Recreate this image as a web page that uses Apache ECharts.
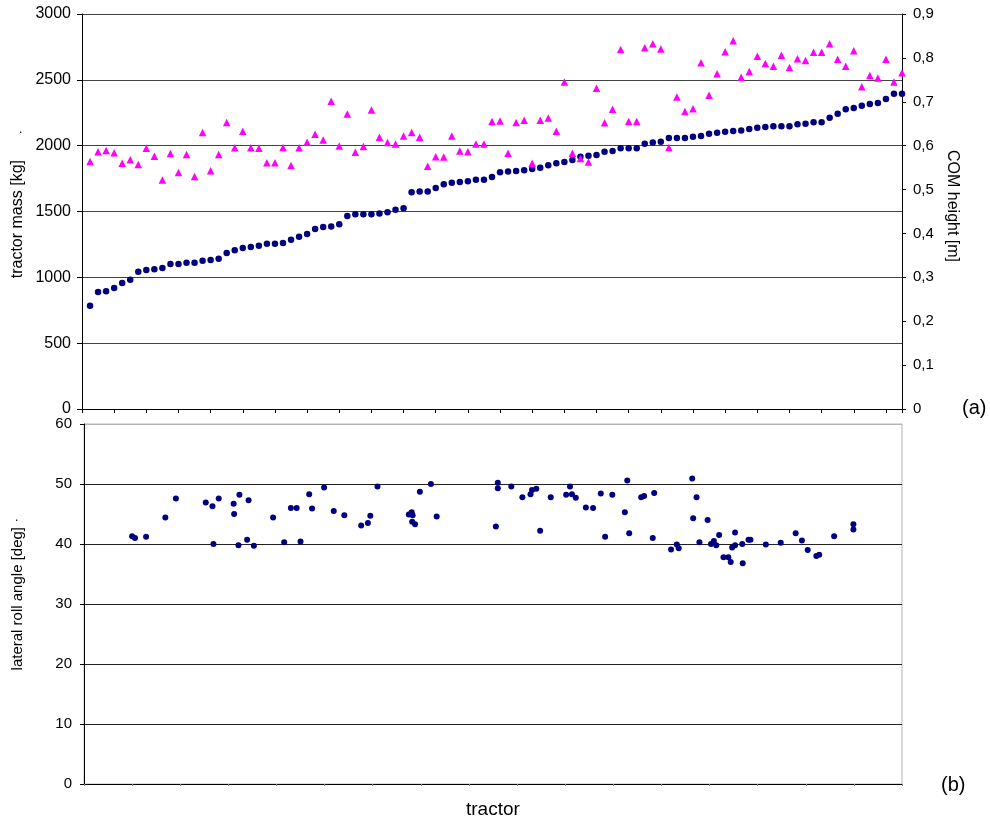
<!DOCTYPE html>
<html>
<head>
<meta charset="utf-8">
<script src="https://cdn.jsdelivr.net/npm/echarts@6/dist/echarts.min.js"></script>
<style>
  html, body { margin: 0; padding: 0; background: #fff; }
  #chart { width: 990px; height: 822px; }
</style>
</head>
<body>
<div id="chart"></div>
<script>
// (a) tractors sorted by mass, index 1..102
var massKg = [784, 889, 894, 919, 957, 982, 1043, 1056, 1061, 1071,
    1101, 1101, 1111, 1111, 1126, 1132, 1142, 1185, 1205, 1223,
    1230, 1240, 1256, 1256, 1261, 1286, 1309, 1329, 1367, 1382,
    1387, 1403, 1465, 1479, 1479, 1479, 1484, 1494, 1514, 1524,
    1646, 1651, 1651, 1679, 1707, 1719, 1724, 1729, 1742, 1742,
    1762, 1798, 1803, 1808, 1813, 1823, 1833, 1851, 1866, 1876,
    1891, 1916, 1924, 1929, 1954, 1960, 1981, 1980, 1980, 2015,
    2025, 2030, 2058, 2058, 2058, 2068, 2073, 2091, 2098, 2106,
    2111, 2116, 2127, 2136, 2142, 2147, 2147, 2147, 2162, 2167,
    2177, 2177, 2212, 2243, 2276, 2286, 2304, 2317, 2324, 2354,
    2395, 2395];

var comHeight = [0.564, 0.586, 0.589, 0.584, 0.560, 0.568, 0.557, 0.594, 0.576, 0.522,
    0.582, 0.539, 0.580, 0.530, 0.630, 0.543, 0.580, 0.653, 0.595, 0.633,
    0.595, 0.594, 0.561, 0.561, 0.596, 0.555, 0.595, 0.608, 0.626, 0.613,
    0.701, 0.599, 0.672, 0.585, 0.598, 0.681, 0.619, 0.607, 0.604, 0.622,
    0.630, 0.619, 0.553, 0.575, 0.574, 0.622, 0.588, 0.586, 0.604, 0.604,
    0.655, 0.656, 0.583, 0.653, 0.658, 0.560, 0.658, 0.663, 0.633, 0.745,
    0.583, 0.571, 0.563, 0.731, 0.652, 0.683, 0.819, 0.655, 0.655, 0.823,
    0.832, 0.820, 0.596, 0.711, 0.678, 0.684, 0.789, 0.715, 0.764, 0.814,
    0.839, 0.756, 0.769, 0.804, 0.787, 0.781, 0.806, 0.778, 0.798, 0.794,
    0.813, 0.813, 0.832, 0.797, 0.781, 0.816, 0.734, 0.760, 0.754, 0.797,
    0.745, 0.766];

// (b) lateral roll angle
var rollX = [10.0, 10.6, 12.9, 16.9, 19.1, 25.3, 26.7, 28.0, 26.9, 31.1,
    31.2, 32.3, 34.2, 32.1, 33.9, 35.3, 39.3, 41.6, 43.0, 44.2,
    45.0, 46.8, 47.4, 49.9, 51.9, 54.1, 57.6, 59.0, 59.5, 61.0,
    67.5, 68.1, 68.3, 68.2, 68.8, 69.8, 72.1, 73.3, 85.6, 86.0,
    86.0, 88.8, 91.1, 92.8, 93.1, 94.0, 94.8, 97.0, 100.2, 101.0,
    101.4, 102.2, 104.3, 105.8, 107.4, 108.3, 109.8, 112.4, 112.9, 113.3,
    115.8, 116.4, 118.5, 118.2, 122.0, 123.2, 123.6, 126.4, 127.3, 126.6,
    127.9, 129.6, 130.3, 130.9, 131.4, 132.0, 132.9, 133.9, 134.4, 134.7,
    135.3, 135.3, 136.8, 136.9, 138.1, 138.5, 141.7, 144.8, 147.9, 149.2,
    150.4, 152.2, 152.8, 155.9, 159.9, 159.9];

var rollAngle = [41.3, 41.0, 41.2, 44.4, 47.6, 46.9, 46.3, 47.6, 40.0, 46.7,
    45.0, 48.2, 47.3, 39.8, 40.7, 39.7, 44.4, 40.3, 46.0, 46.0,
    40.4, 48.3, 45.9, 49.4, 45.5, 44.8, 43.1, 43.5, 44.7, 49.6,
    44.9, 45.3, 44.8, 43.7, 43.3, 48.7, 50.0, 44.6, 42.9, 49.3,
    50.2, 49.6, 47.8, 48.3, 49.0, 49.2, 42.2, 47.8, 48.2, 49.6,
    48.3, 47.7, 46.1, 46.0, 48.4, 41.2, 48.2, 45.3, 50.6, 41.8,
    47.8, 48.0, 48.5, 41.0, 39.1, 39.9, 39.3, 50.9, 47.8, 44.3,
    40.3, 44.0, 40.0, 40.5, 39.8, 41.5, 37.8, 37.8, 37.0, 39.4,
    39.8, 41.9, 40.0, 36.8, 40.7, 40.7, 39.9, 40.2, 41.8, 40.6,
    39.0, 38.0, 38.2, 41.3, 43.3, 42.4];

var massTicks = [0, 3000, 500];
var heightTicks = [0, 0.9, 0.1];
var angleTicks = [0, 60, 10];

var massData = [], heightData = [], rollData = [];
for (var i = 0; i < massKg.length; i++) {
    massData.push([i + 1, massKg[i]]);
    heightData.push([i + 1, comHeight[i]]);
}
for (var j = 0; j < rollX.length; j++) {
    rollData.push([rollX[j], rollAngle[j]]);
}

var font = 'Liberation Sans, Arial, sans-serif';
var plain = function (v) { return String(v); };

var chart = echarts.init(document.getElementById('chart'), null, { renderer: 'canvas' });

chart.setOption({
    backgroundColor: '#fff',
    animation: false,
    textStyle: { fontFamily: font },
    grid: [
        { left: 82, top: 14, width: 820, height: 395 },
        { left: 84, top: 424, width: 818, height: 360,
          show: true, borderColor: '#b4b4b4', borderWidth: 1 }
    ],
    xAxis: [
        {
            type: 'value', gridIndex: 0, min: 0, max: 102, interval: 4,
            axisLine: { lineStyle: { color: '#000', width: 1 } },
            axisTick: { show: true, length: 4, lineStyle: { color: '#000' } },
            axisLabel: { show: false },
            splitLine: { show: false }
        },
        {
            type: 'value', gridIndex: 1, min: 0, max: 170, interval: 10,
            axisLine: { lineStyle: { color: '#000', width: 1 } },
            axisTick: { show: true, length: 2, lineStyle: { color: '#888' } },
            axisLabel: { show: false },
            splitLine: { show: false }
        }
    ],
    yAxis: [
        {
            type: 'value', gridIndex: 0, position: 'left',
            min: massTicks[0], max: massTicks[1], interval: massTicks[2],
            axisLine: { show: true, lineStyle: { color: '#000' } },
            axisTick: { show: true, length: 5, lineStyle: { color: '#000' } },
            axisLabel: { color: '#000', fontSize: 16, margin: 11, fontFamily: font, formatter: plain },
            splitLine: { show: true, lineStyle: { color: '#444', width: 1 } }
        },
        {
            type: 'value', gridIndex: 0, position: 'right',
            min: heightTicks[0], max: heightTicks[1], interval: heightTicks[2],
            axisLine: { show: true, lineStyle: { color: '#000' } },
            axisTick: { show: true, length: 4, lineStyle: { color: '#000' } },
            axisLabel: {
                color: '#000', fontSize: 15, margin: 11, fontFamily: font,
                formatter: function (v) {
                    return v === 0 ? '0' : v.toFixed(1).replace('.', ',');
                }
            },
            splitLine: { show: false }
        },
        {
            type: 'value', gridIndex: 1, position: 'left',
            min: angleTicks[0], max: angleTicks[1], interval: angleTicks[2],
            axisLine: { show: true, lineStyle: { color: '#000' } },
            axisTick: { show: true, length: 4, lineStyle: { color: '#000' } },
            axisLabel: { color: '#000', fontSize: 15, margin: 12, fontFamily: font, formatter: plain },
            splitLine: {
                show: true,
                lineStyle: { color: ['#222', '#222', '#222', '#222', '#222', '#222', '#b4b4b4'], width: 1 }
            }
        }
    ],
    series: [
        {
            name: 'tractor mass', type: 'scatter', xAxisIndex: 0, yAxisIndex: 0,
            symbol: 'circle', symbolSize: 6.5,
            itemStyle: { color: '#000080', opacity: 1 },
            data: massData
        },
        {
            name: 'COM height', type: 'scatter', xAxisIndex: 0, yAxisIndex: 1,
            symbol: 'triangle', symbolSize: 7.5,
            itemStyle: { color: '#ff00ff', opacity: 1 },
            data: heightData
        },
        {
            name: 'lateral roll angle', type: 'scatter', xAxisIndex: 1, yAxisIndex: 2,
            symbol: 'circle', symbolSize: 6,
            itemStyle: { color: '#000080', opacity: 1 },
            data: rollData
        }
    ],
    graphic: [
        { type: 'text', left: 10, top: 160, rotation: Math.PI / 2,
          style: { text: 'tractor mass [kg]', font: '16px ' + font, fill: '#000' } },
        { type: 'text', left: 19, top: 124,
          style: { text: '.', font: '12px ' + font, fill: '#000' } },
        { type: 'text', left: 944, top: 150, rotation: -Math.PI / 2,
          style: { text: 'COM height [m]', font: '16px ' + font, fill: '#000' } },
        { type: 'text', left: 10, top: 527, rotation: Math.PI / 2,
          style: { text: 'lateral roll angle [deg]', font: '15px ' + font, fill: '#000' } },
        { type: 'text', left: 15, top: 512,
          style: { text: '.', font: '12px ' + font, fill: '#000' } },
        { type: 'text', left: 962, top: 398,
          style: { text: '(a)', font: '20px ' + font, fill: '#000' } },
        { type: 'text', left: 941, top: 775,
          style: { text: '(b)', font: '20px ' + font, fill: '#000' } },
        { type: 'text', left: 466, top: 800,
          style: { text: 'tractor', font: '19px ' + font, fill: '#000' } }
    ]
});
</script>
</body>
</html>
